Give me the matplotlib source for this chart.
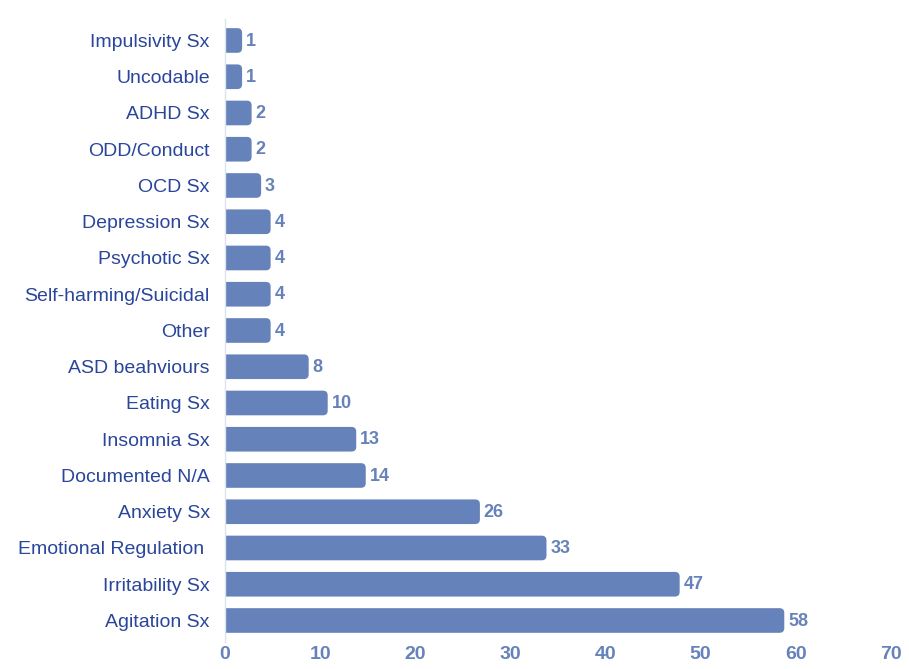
import matplotlib.pyplot as plt
from matplotlib.patches import FancyBboxPatch

categorias = ["Agitation Sx", "Irritability Sx", "Emotional Regulation ", "Anxiety Sx",
              "Documented N/A", "Insomnia Sx", "Eating Sx", "ASD beahviours", "Other",
              "Self-harming/Suicidal", "Psychotic Sx", "Depression Sx", "OCD Sx",
              "ODD/Conduct", "ADHD Sx", "Uncodable", "Impulsivity Sx"]
valores = [58, 47, 33, 26, 14, 13, 10, 8, 4, 4, 4, 4, 3, 2, 2, 1, 1]
ticks_x = [0, 10, 20, 30, 40, 50, 60, 70]

color_barra = "#6682ba"
color_texto = "#2a469b"

plt.rcParams['font.family'] = ['Liberation Sans', 'DejaVu Sans']

fig = plt.figure(figsize=(9.09, 6.69), dpi=100)
ax = fig.add_axes([0.2475, 0.040, 0.7325, 0.932])

barras = ax.barh(range(len(valores)), valores, height=0.68, color=color_barra)

# barras con esquina redondeada a la derecha
for b in barras:
    x0, y0 = b.get_x(), b.get_y()
    w, h = b.get_width(), b.get_height()
    b.set_visible(False)
    r = 0.5
    ax.add_patch(FancyBboxPatch((x0 - 1, y0), w + 1 + 0.8, h,
                                boxstyle=f"round,pad=0,rounding_size={r}",
                                mutation_aspect=0.13 / r,
                                facecolor=color_barra, edgecolor="none", zorder=2))

for i, v in enumerate(valores):
    ax.text(v + 1.2, i - 0.02, str(v), va="center", ha="left", fontsize=13,
            fontweight="bold", color=color_barra)

ax.set_yticks(range(len(categorias)))
ax.set_yticklabels(categorias, fontsize=14, color=color_texto)
ax.set_xticks(ticks_x)
ax.set_xticklabels([str(t) for t in ticks_x], fontsize=14, fontweight="bold", color=color_barra)
ax.tick_params(axis="both", length=0)
ax.tick_params(axis="y", pad=11)
ax.tick_params(axis="x", pad=3)

ax.set_xlim(0, 70)
ax.set_ylim(-0.6, len(valores) - 0.4)

for s in ["top", "right", "bottom"]:
    ax.spines[s].set_visible(False)
ax.spines["left"].set_color("#dde3ee")
ax.spines["left"].set_linewidth(1)
ax.spines["left"].set_zorder(3)

plt.savefig("out.png", dpi=100)
